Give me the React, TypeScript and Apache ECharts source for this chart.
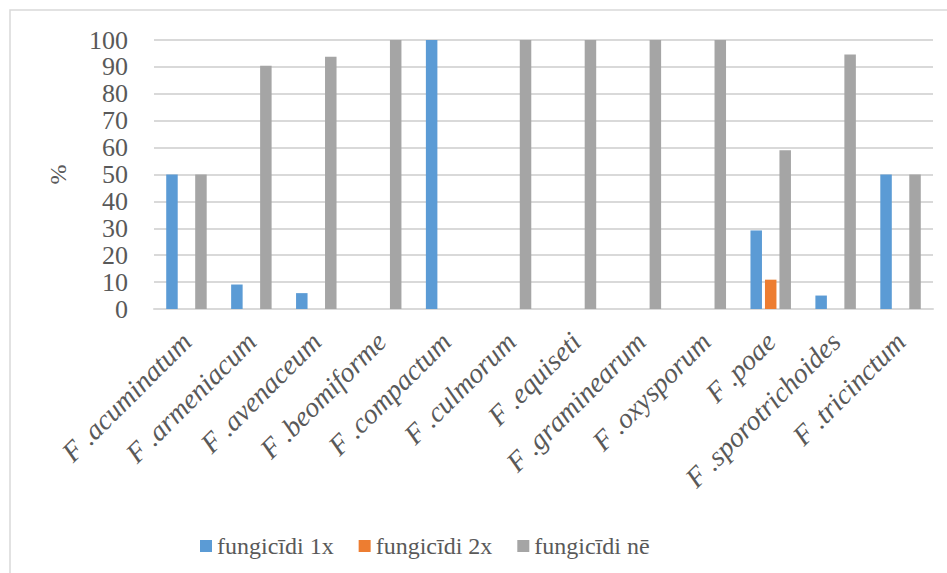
import React, { useEffect, useRef } from "react";
import * as echarts from "echarts";

const categories = [
  "F .acuminatum",
  "F .armeniacum",
  "F .avenaceum",
  "F .beomiforme",
  "F .compactum",
  "F .culmorum",
  "F .equiseti",
  "F .graminearum",
  "F .oxysporum",
  "F .poae",
  "F .sporotrichoides",
  "F .tricinctum",
];

const seriesNames = ["fungicīdi 1x", "fungicīdi 2x", "fungicīdi nē"];

const fungicides1x = [50, 9.1, 5.9, 0, 100, 0, 0, 0, 0, 29.2, 5.0, 50];
const fungicides2x = [0, 0, 0, 0, 0, 0, 0, 0, 0, 10.9, 0, 0];
const fungicidesNone = [50, 90.4, 93.8, 100, 0, 100, 100, 100, 100, 59, 94.6, 50];

const colors = ["#5b9bd5", "#ed7d31", "#a5a5a5"];
const FONT = "Liberation Serif";
const TEXT = "#595959";

export default function App() {
  const ref = useRef<HTMLDivElement>(null);

  useEffect(() => {
    if (!ref.current) return;
    const chart = echarts.init(ref.current, undefined, { renderer: "svg" });
    const values = [fungicides1x, fungicides2x, fungicidesNone];

    chart.setOption({
      animation: false,
      backgroundColor: "#ffffff",
      textStyle: { fontFamily: FONT, color: TEXT },
      grid: { left: 154, right: 14, top: 40, bottom: 264, containLabel: false },
      legend: {
        top: 529,
        left: 195,
        itemWidth: 12,
        itemHeight: 12,
        itemGap: 25,
        icon: "rect",
        textStyle: { fontFamily: FONT, fontSize: 24, color: TEXT },
        data: seriesNames,
      },
      xAxis: {
        type: "category",
        data: categories,
        axisLine: { lineStyle: { color: "#d9d9d9", width: 2 } },
        axisTick: { show: false },
        axisLabel: {
          interval: 0,
          rotate: 45,
          margin: 28,
          fontFamily: FONT,
          fontStyle: "italic",
          fontSize: 28,
          color: TEXT,
        },
      },
      yAxis: {
        type: "value",
        min: 0,
        max: 100,
        interval: 10,
        name: "%",
        nameLocation: "middle",
        nameGap: 84,
        nameRotate: 90,
        nameTextStyle: { fontFamily: FONT, fontSize: 24, color: TEXT },
        axisLine: { show: false },
        axisTick: { show: false },
        axisLabel: { margin: 26, fontFamily: FONT, fontSize: 26, color: TEXT },
        splitLine: { lineStyle: { color: "#d9d9d9", width: 2 } },
      },
      series: seriesNames.map((name, i) => ({
        name,
        type: "bar",
        data: values[i],
        barWidth: 11.5,
        barGap: "26%",
        itemStyle: { color: colors[i] },
      })),
      graphic: [
        {
          type: "rect",
          shape: { x: 10, y: 10, width: 960, height: 600 },
          style: { fill: "none", stroke: "#d9d9d9", lineWidth: 1.5 },
          silent: true,
        },
      ],
    });

    return () => chart.dispose();
  }, []);

  return (
    <div
      ref={ref}
      style={{ position: "fixed", left: 0, top: 0, width: 947, height: 573 }}
    />
  );
}
